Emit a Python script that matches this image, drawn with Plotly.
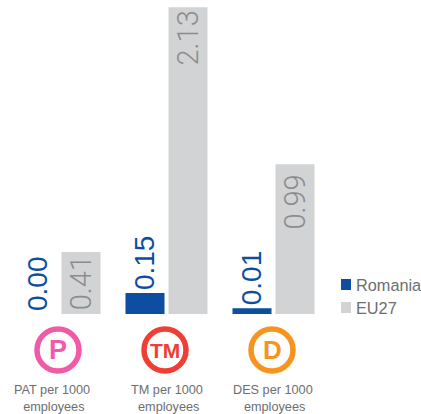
import plotly.graph_objects as go

categories = ["PAT per 1000<br>\u00a0employees", "TM per 1000<br>\u00a0employees", "DES per 1000<br>\u00a0employees"]
icon_text = ["P", "TM", "D"]
icon_colors = ["#f05aa6", "#ef3e33", "#f7941e"]
icon_sizes = [27, 21, 26]
label_shifts = [-8, 0, -1]
series_names = ["Romania", "EU27"]
romania_values = [0.0, 0.145, 0.04]
romania_labels = ["0.00", "0.15\u00a0", "0.01"]
eu_values = [0.43, 2.13, 1.04]
eu_labels = ["0.41", "2.13", "0.99\u00a0"]
x_pos = [0, 1, 2]

BLUE = "#0d4ea1"
GREY = "#d1d3d4"
TXT = "#6d6e71"

fig = go.Figure()
fig.add_bar(name=series_names[0], x=x_pos, y=romania_values, marker_color=BLUE, marker_line_width=0,
            text=romania_labels, textposition="outside", textangle=-90, cliponaxis=False,
            textfont=dict(family="Liberation Sans", size=28, color=BLUE), constraintext="none")
fig.add_bar(name=series_names[1], x=x_pos, y=eu_values, marker_color=GREY, marker_line_width=0,
            text=eu_labels, textposition="inside", insidetextanchor="end", textangle=-90,
            textfont=dict(family="Roboto", size=29, color="#8a8c8e", weight=300), constraintext="none")

shapes, annotations = [], []
for i, x in enumerate(x_pos):
    shapes.append(dict(type="circle", xref="x", yref="paper", xsizemode="pixel", ysizemode="pixel",
                       xanchor=x, yanchor=0, x0=-22.5, x1=19.5, y0=-57, y1=-15,
                       line=dict(color=icon_colors[i], width=5.5), fillcolor="white"))
    annotations.append(dict(x=x, y=0, xref="x", yref="paper", yanchor="middle", yshift=-36, xshift=-1.5,
                            showarrow=False, text=f"<b>{icon_text[i]}</b>",
                            font=dict(family="Liberation Sans", size=icon_sizes[i], color=icon_colors[i])))
    annotations.append(dict(x=x, y=0, xref="x", yref="paper", yanchor="top", yshift=-67, xshift=label_shifts[i],
                            showarrow=False, text=categories[i], align="center",
                            font=dict(family="Liberation Sans", size=12.7, color=TXT)))

# legend, drawn by hand so swatch-to-text spacing matches
for name, color, top in zip(series_names, [BLUE, GREY], [279, 302]):
    shapes.append(dict(type="rect", xref="paper", yref="paper", x0=341 / 421, x1=351 / 421,
                       y0=(314 - top - 11) / 314, y1=(314 - top) / 314,
                       line_width=0, fillcolor=color))
    annotations.append(dict(x=356 / 421, y=(314 - top - 5.5) / 314, xref="paper", yref="paper",
                            xanchor="left", yanchor="middle", xshift=-2, showarrow=False, text=name,
                            font=dict(family="Liberation Sans", size=16.3, color=TXT)))

fig.update_layout(
    width=421, height=414, autosize=False, margin=dict(l=0, r=0, t=0, b=100),
    paper_bgcolor="white", plot_bgcolor="white", showlegend=False,
    barmode="group", bargap=0.196, bargroupgap=0.093,
    font=dict(family="Liberation Sans", color=TXT),
    xaxis=dict(range=[-59.5 / 107, (421 - 59.5) / 107], visible=False),
    yaxis=dict(range=[0, 314 / 144], visible=False),
    shapes=shapes, annotations=annotations,
)
fig.write_html("out.html", config=dict(displayModeBar=False),
               post_script="document.body.style.margin='0';document.documentElement.style.overflow='hidden';")
